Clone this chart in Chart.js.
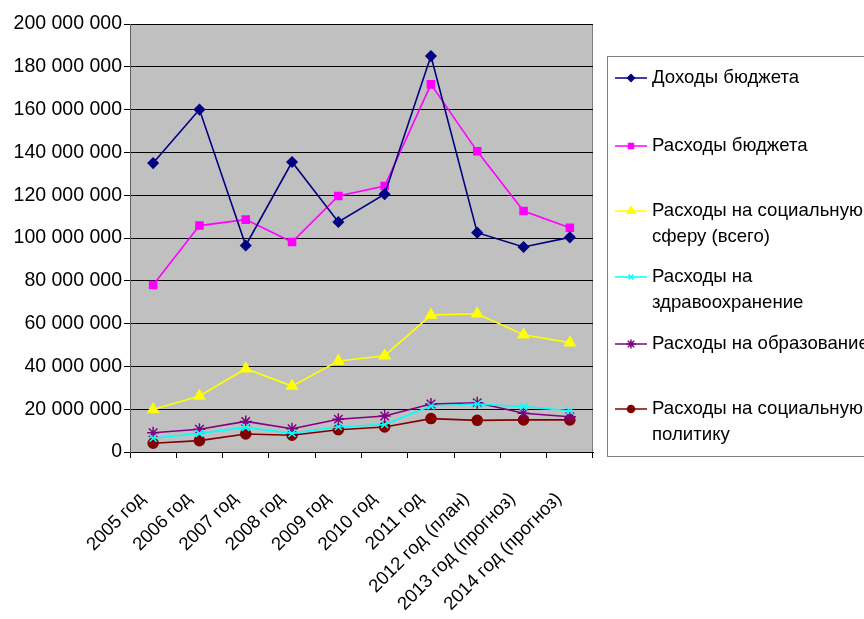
<!DOCTYPE html>
<html>
<head>
<meta charset="utf-8">
<script src="https://cdn.jsdelivr.net/npm/chart.js@4.4.1/dist/chart.umd.min.js"></script>
<style>
  html, body { margin: 0; padding: 0; background: #ffffff; }
  #wrap { width: 864px; height: 619px; position: relative; }
</style>
</head>
<body>
<div id="wrap"><canvas id="c" width="864" height="619"></canvas></div>
<script>
// Годы (категории оси X)
const years = [
  "2005 год", "2006 год", "2007 год", "2008 год", "2009 год",
  "2010 год", "2011 год", "2012 год (план)", "2013 год (прогноз)", "2014 год (прогноз)"
];

// Значения рядов, руб.
const budgetIncome   = [135000000, 160000000, 96500000, 135500000, 107500000, 120500000, 185000000, 102500000, 95800000, 100300000];
const budgetSpending = [78000000, 105800000, 108600000, 98100000, 119600000, 124300000, 171800000, 140500000, 112600000, 104800000];
const socialSphere   = [19900000, 26200000, 38900000, 30800000, 42500000, 45000000, 64000000, 64600000, 54800000, 51100000];
const healthcare     = [6400000, 8700000, 11500000, 8700000, 11800000, 12800000, 21500000, 22400000, 21200000, 19300000];
const education      = [9000000, 10600000, 14300000, 10900000, 15300000, 16800000, 22400000, 23000000, 18100000, 16500000];
const socialPolicy   = [4100000, 5300000, 8400000, 7800000, 10400000, 11700000, 15600000, 14800000, 15000000, 15000000];

// Подписи рядов (строки легенды)
const seriesLabels = [
  ["Доходы бюджета"],
  ["Расходы бюджета"],
  ["Расходы на социальную", "сферу (всего)"],
  ["Расходы на", "здравоохранение"],
  ["Расходы на образование"],
  ["Расходы на социальную", "политику"]
];

// Деления оси Y
const yMin = 0;
const yMax = 200000000;
const yStep = 20000000;

const FONT = '"Liberation Sans", Arial, sans-serif';

function fmt(v) {
  return String(v).replace(/\B(?=(\d{3})+(?!\d))/g, ' ');
}

const styles = [
  { color: '#000080', pointStyle: 'rectRot', radius: 5 },
  { color: '#FF00FF', pointStyle: 'rect', radius: 5 },
  { color: '#FFFF00', pointStyle: 'triangle', radius: 6 },
  { color: '#00FFFF', pointStyle: 'crossRot', radius: 5 },
  { color: '#800080', pointStyle: 'star', radius: 6 },
  { color: '#800000', pointStyle: 'circle', radius: 5 }
];
const seriesData = [budgetIncome, budgetSpending, socialSphere, healthcare, education, socialPolicy];

const datasets = seriesData.map((d, i) => ({
  label: seriesLabels[i].join(' '),
  data: d,
  borderColor: styles[i].color,
  backgroundColor: styles[i].color,
  pointBackgroundColor: styles[i].color,
  pointBorderColor: styles[i].color,
  pointStyle: styles[i].pointStyle,
  pointRadius: styles[i].radius,
  pointBorderWidth: 1.5,
  borderWidth: 1.6,
  tension: 0,
  fill: false
}));

// Серый фон области построения и её рамка
const plotBackground = {
  id: 'plotBackground',
  beforeDraw(chart) {
    const { ctx, chartArea: a } = chart;
    ctx.save();
    ctx.fillStyle = '#C0C0C0';
    ctx.fillRect(a.left, a.top, a.right - a.left, a.bottom - a.top);
    ctx.strokeStyle = '#808080';
    ctx.lineWidth = 1;
    ctx.strokeRect(a.left + 0.5, a.top + 0.5, a.right - a.left - 1, a.bottom - a.top);
    ctx.restore();
  }
};

// Легенда справа в рамке
const sideLegend = {
  id: 'sideLegend',
  afterDraw(chart) {
    const { ctx } = chart;
    ctx.save();
    ctx.strokeStyle = '#808080';
    ctx.lineWidth = 1;
    ctx.strokeRect(607.5, 56.5, 300, 400);
    const rows = [
      [78],
      [146],
      [211, 237],
      [277, 303],
      [344],
      [409, 435]
    ];
    ctx.font = '18.6px ' + FONT;
    ctx.textBaseline = 'middle';
    ctx.textAlign = 'left';
    rows.forEach((ys, i) => {
      const y = ys[0];
      ctx.strokeStyle = styles[i].color;
      ctx.lineWidth = 1.5;
      ctx.beginPath();
      ctx.moveTo(615, y);
      ctx.lineTo(647, y);
      ctx.stroke();
      ctx.fillStyle = styles[i].color;
      Chart.helpers.drawPoint(ctx, {
        pointStyle: styles[i].pointStyle,
        radius: Math.max(3.5, styles[i].radius - 1.5),
        borderWidth: 1.5,
        rotation: 0
      }, 631, y);
      ctx.fillStyle = '#000';
      seriesLabels[i].forEach((line, k) => {
        ctx.fillText(line, 652, ys[k] ?? (y + 26 * k));
      });
    });
    ctx.restore();
  }
};

new Chart(document.getElementById('c'), {
  type: 'line',
  data: { labels: years, datasets },
  plugins: [plotBackground, sideLegend],
  options: {
    responsive: false,
    animation: false,
    devicePixelRatio: 1,
    layout: { padding: { top: 24, right: 271, left: 0, bottom: 0 } },
    plugins: {
      legend: { display: false },
      tooltip: { enabled: false }
    },
    scales: {
      x: {
        offset: true,
        afterFit(scale) { scale.height = 167; },
        grid: {
          offset: true,
          drawOnChartArea: false,
          drawTicks: true,
          tickLength: 6,
          color: '#000'
        },
        border: { display: true, color: '#000', width: 1 },
        ticks: {
          color: '#000',
          font: { family: FONT, size: 18.6 },
          maxRotation: 45,
          minRotation: 45,
          autoSkip: false,
          padding: 30,
          labelOffset: -11
        }
      },
      y: {
        min: yMin,
        max: yMax,
        afterFit(scale) { scale.width = 130; },
        grid: {
          color: '#000',
          lineWidth: 1,
          drawTicks: true,
          tickLength: 6
        },
        border: { display: true, color: '#606060', width: 1 },
        ticks: {
          stepSize: yStep,
          color: '#000',
          padding: 2,
          font: { family: FONT, size: 19.5 },
          callback: (v) => fmt(v)
        }
      }
    }
  }
});
</script>
</body>
</html>
